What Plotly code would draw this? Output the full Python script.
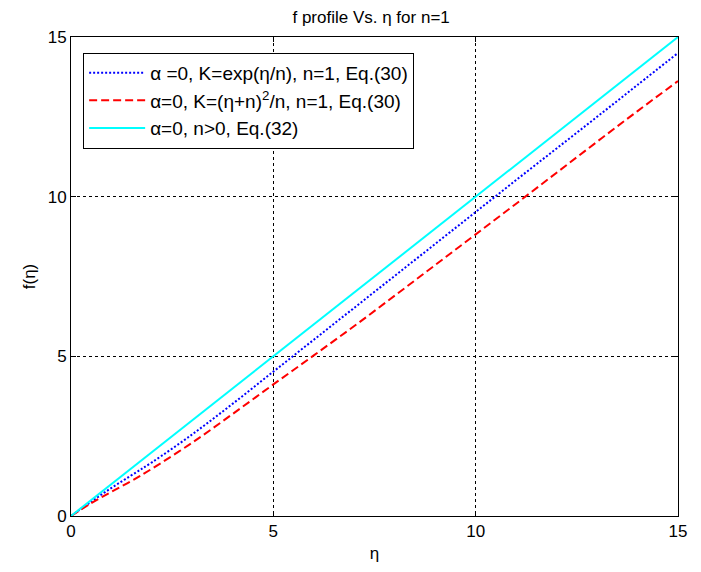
import plotly.graph_objects as go

eta = [0, 0.5, 1, 1.5, 2, 3, 4, 5, 6, 7, 8, 9, 10, 11, 12, 13, 14, 15]
f_exp = [0, 0.45, 0.88, 1.28, 1.68, 2.56, 3.52, 4.52, 5.52, 6.52, 7.52, 8.52, 9.52, 10.52, 11.51, 12.5, 13.5, 14.5]
f_poly = [0, 0.4, 0.76, 1.1, 1.48, 2.3, 3.2, 4.12, 5.03, 5.95, 6.9, 7.86, 8.82, 9.78, 10.75, 11.72, 12.68, 13.62]
f_lin = [0, 0.5, 1, 1.5, 2, 3, 4, 5, 6, 7, 8, 9, 10, 11, 12, 13, 14, 15]

names = [
    "α =0, K=exp(η/n), n=1, Eq.(30)",
    "α=0, K=(η+n)<sup>2</sup>/n, n=1, Eq.(30)",
    "α=0, n>0, Eq.(32)",
]
ticks = [0, 5, 10, 15]

fig = go.Figure()
fig.add_trace(go.Scatter(x=eta, y=f_exp, mode="lines", name=names[0],
                         line=dict(color="#0000ff", width=2, dash="2px,2px", shape="spline")))
fig.add_trace(go.Scatter(x=eta, y=f_poly, mode="lines", name=names[1],
                         line=dict(color="#ff0000", width=2, dash="8px,4px", shape="spline")))
fig.add_trace(go.Scatter(x=eta, y=f_lin, mode="lines", name=names[2],
                         line=dict(color="#00ffff", width=2)))

axis_common = dict(
    range=[0, 15], tickvals=ticks, ticktext=[str(t) for t in ticks],
    showline=True, linecolor="black", linewidth=1, mirror="ticks",
    ticks="inside", ticklen=5, tickcolor="black",
    showgrid=True, gridcolor="black", gridwidth=1, griddash="3px,3px",
    zeroline=False, tickfont=dict(size=17, color="black"),
)

fig.update_layout(
    width=701, height=572,
    margin=dict(l=63, r=31, t=29, b=64),
    paper_bgcolor="white", plot_bgcolor="white",
    font=dict(family="Liberation Sans, Arial, sans-serif", color="black"),
    title=dict(text="f profile Vs. η for n=1", x=0.518, xanchor="center", y=0.985,
               yanchor="middle", font=dict(size=17, color="black")),
    xaxis=dict(**axis_common, title=dict(text="η", font=dict(size=17), standoff=6)),
    yaxis=dict(**axis_common, title=dict(text="f(η)", font=dict(size=17), standoff=7)),
    legend=dict(x=0.02, y=0.967, xanchor="left", yanchor="top",
                bgcolor="white", bordercolor="black", borderwidth=1,
                font=dict(size=19, color="black"), itemwidth=56, tracegroupgap=0),
    showlegend=True,
)

fig.write_html("out.html")
